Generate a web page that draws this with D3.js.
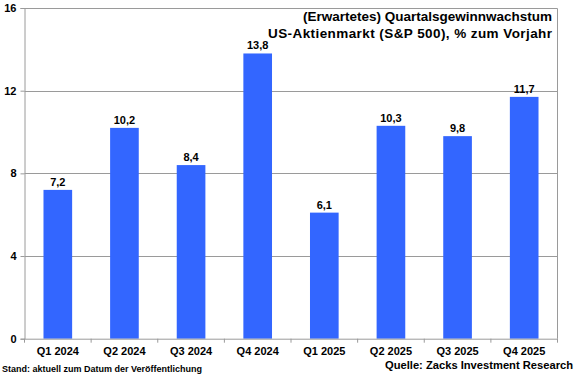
<!DOCTYPE html>
<html><head><meta charset="utf-8">
<script src="https://cdn.jsdelivr.net/npm/d3@7"></script>
<style>body{margin:0;background:#fff}svg{display:block;font-family:"Liberation Sans",Arial,sans-serif;font-weight:bold}</style>
</head><body>
<script>
const categories = ["Q1 2024","Q2 2024","Q3 2024","Q4 2024","Q1 2025","Q2 2025","Q3 2025","Q4 2025"];
const values = [7.2, 10.2, 8.4, 13.8, 6.1, 10.3, 9.8, 11.7];
const valueLabels = ["7,2","10,2","8,4","13,8","6,1","10,3","9,8","11,7"];
const yTicks = [0, 4, 8, 12, 16];
const titleLines = ["(Erwartetes) Quartalsgewinnwachstum","US-Aktienmarkt (S&P 500), % zum Vorjahr"];

const W = 580, H = 375;
const m = {left: 24.5, right: 557.5, top: 8, bottom: 338.7};
const svg = d3.select("body").append("svg").attr("width", W).attr("height", H);

const x = d3.scaleBand().domain(categories).range([m.left, m.right]).paddingInner(0.57).paddingOuter(0.285);
const xb = d3.scaleBand().domain(categories).range([m.left, m.right]);
const y = d3.scaleLinear().domain([0, 16]).range([m.bottom, m.top]);

// gridlines
svg.append("g").selectAll("line").data(yTicks.filter(d => d > 0)).join("line")
  .attr("x1", m.left).attr("x2", m.right)
  .attr("y1", d => Math.round(y(d)) + 0.5).attr("y2", d => Math.round(y(d)) + 0.5)
  .attr("stroke", "#9a9a9a").attr("stroke-width", 1);

// right border
svg.append("line").attr("x1", m.right).attr("x2", m.right).attr("y1", Math.round(y(16))+0.5).attr("y2", m.bottom)
  .attr("stroke", "#9a9a9a");

// bars
svg.append("g").selectAll("rect").data(values).join("rect")
  .attr("x", (d, i) => x(categories[i]))
  .attr("width", x.bandwidth())
  .attr("y", d => y(d))
  .attr("height", d => y(0) - y(d))
  .attr("fill", "#3366ff");

// y axis
const yAxis = d3.axisLeft(y).tickValues(yTicks).tickSize(4).tickPadding(4).tickFormat(d3.format("d"));
const gy = svg.append("g").attr("transform", `translate(${m.left},0)`).call(yAxis);
gy.select(".domain").attr("stroke", "#9a9a9a");
gy.selectAll(".tick line").attr("stroke", "#9a9a9a");
gy.selectAll(".tick text").attr("fill", "#000").style("font-size", "11px").style("font-weight", "bold").style("font-family", "Liberation Sans, Arial, sans-serif");

// x axis
const xAxis = d3.axisBottom(xb).tickSize(0).tickPadding(9);
const gx = svg.append("g").attr("transform", `translate(0,${m.bottom})`).call(xAxis);
gx.select(".domain").attr("stroke", "#9a9a9a");
gx.selectAll(".tick text").attr("fill", "#000").style("font-size", "11px").style("font-weight", "bold").style("font-family", "Liberation Sans, Arial, sans-serif");
// tick marks between categories
svg.append("g").selectAll("line").data(categories.concat(["end"])).join("line")
  .attr("x1", (d, i) => i < categories.length ? xb(d) : m.right)
  .attr("x2", (d, i) => i < categories.length ? xb(d) : m.right)
  .attr("y1", m.bottom).attr("y2", m.bottom + 4)
  .attr("stroke", "#9a9a9a");

// value labels
svg.append("g").selectAll("text").data(values).join("text")
  .attr("x", (d, i) => x(categories[i]) + x.bandwidth() / 2)
  .attr("y", d => y(d) - 4)
  .attr("text-anchor", "middle")
  .style("font-size", "11px")
  .text((d, i) => valueLabels[i]);

// title
const tl = svg.append("g").selectAll("text").data(titleLines).join("text")
  .attr("x", 552).attr("y", (d, i) => 21 + i * 16.5)
  .attr("text-anchor", "end").style("font-size", "13.5px")
  .text(d => d);
tl.filter((d, i) => i === 1).attr("textLength", 284).attr("lengthAdjust", "spacing");

// footers
svg.append("text").attr("x", 2).attr("y", 372).style("font-size", "9px")
  .attr("textLength", 200).attr("lengthAdjust", "spacingAndGlyphs")
  .text("Stand: aktuell zum Datum der Veröffentlichung");
svg.append("text").attr("x", 573).attr("y", 369).attr("text-anchor", "end").style("font-size", "11.5px")
  .attr("textLength", 188).attr("lengthAdjust", "spacingAndGlyphs")
  .text("Quelle: Zacks Investment Research");
</script>
</body></html>
